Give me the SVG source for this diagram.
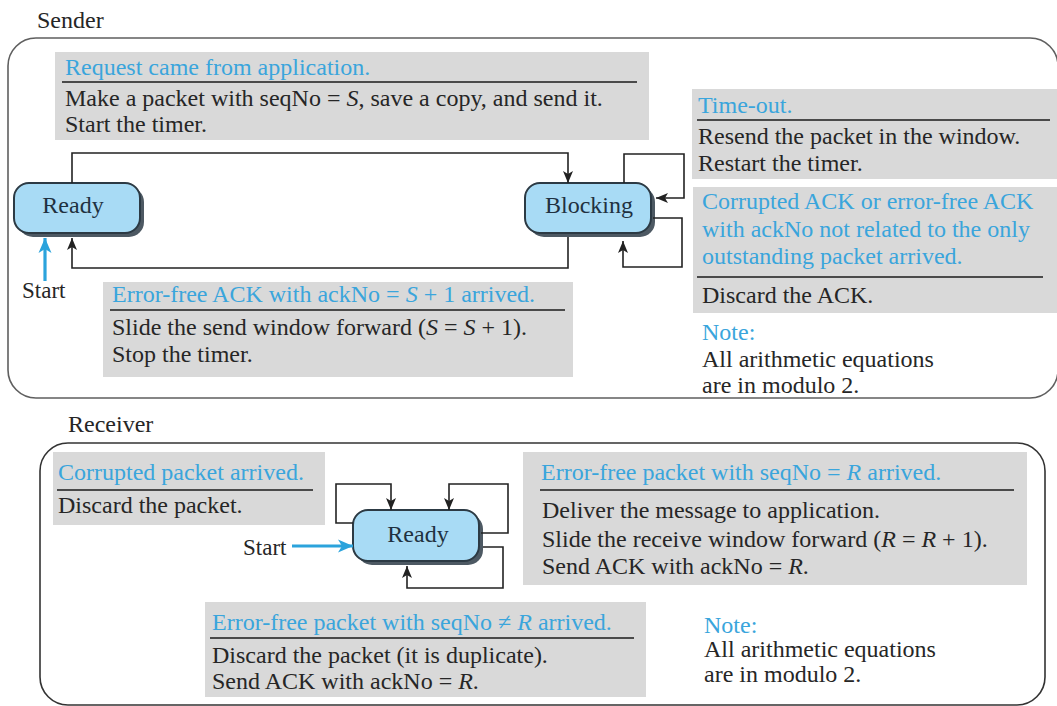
<svg xmlns="http://www.w3.org/2000/svg" width="1057" height="706" viewBox="0 0 1057 706">
<defs>
<style>
text{font-family:"Liberation Serif","Times New Roman",serif;font-size:24px;fill:#262626}
.t{fill:#3aa5dc}
.lbl{font-size:24px}
.st{font-size:23px}
.nd{font-size:24px;fill:#1f3140}
.box{fill:#d9d9d9}
.sep{stroke:#1a1a1a;stroke-width:1.6}
.frame{fill:none;stroke:#5f5f5f;stroke-width:1.6}
.frame2{fill:none;stroke:#333;stroke-width:1.6}
.node{fill:#a8dbf5;stroke:#2c3a44;stroke-width:2}
.shadow{fill:#4d5963}
.c{fill:none;stroke:#222;stroke-width:1.6}
.s{fill:none;stroke:#2ba3dc;stroke-width:3.2}
</style>
<marker id="ah" markerUnits="userSpaceOnUse" markerWidth="13" markerHeight="11" refX="12" refY="5.5" orient="auto">
<path d="M0,0.5 L12,5.5 L0,10.5 L3,5.5 z" fill="#222"/>
</marker>
<marker id="bh" markerUnits="userSpaceOnUse" markerWidth="16" markerHeight="14" refX="15" refY="7" orient="auto">
<path d="M0,0.5 L15,7 L0,13.5 L4,7 z" fill="#2ba3dc"/>
</marker>
</defs>
<rect width="1057" height="706" fill="#fff"/>

<g id="sender">
<text class="lbl" x="37" y="28">Sender</text>
<rect class="frame" x="8" y="38" width="1050" height="360" rx="28"/>
</g>

<g id="s-request">
<rect class="box" x="55" y="52" width="594" height="88"/>
<text class="t" x="65" y="75">Request came from application.</text>
<line class="sep" x1="62" y1="82" x2="637" y2="82"/>
<text x="65" y="106">Make a packet with seqNo = <tspan font-style="italic">S</tspan>, save a copy, and send it.</text>
<text x="65" y="132">Start the timer.</text>
</g>

<g id="s-timeout">
<rect class="box" x="692" y="89" width="365" height="90"/>
<text class="t" x="698" y="113">Time-out.</text>
<line class="sep" x1="697" y1="120" x2="1050" y2="120"/>
<text x="698" y="144">Resend the packet in the window.</text>
<text x="698" y="171">Restart the timer.</text>
</g>

<g id="s-corrupt">
<rect class="box" x="693" y="187" width="364" height="126"/>
<text class="t" x="702" y="209">Corrupted ACK or error-free ACK</text>
<text class="t" x="702" y="237">with ackNo not related to the only</text>
<text class="t" x="702" y="264">outstanding packet arrived.</text>
<line class="sep" x1="697" y1="277" x2="1043" y2="277"/>
<text x="702" y="303">Discard the ACK.</text>
</g>

<g id="s-errfree">
<rect class="box" x="103" y="282" width="470" height="95"/>
<text class="t" x="112" y="302">Error-free ACK with ackNo = <tspan font-style="italic">S</tspan> + 1 arrived.</text>
<line class="sep" x1="110" y1="310" x2="565" y2="310"/>
<text x="112" y="335">Slide the send window forward (<tspan font-style="italic">S</tspan> = <tspan font-style="italic">S</tspan> + 1).</text>
<text x="112" y="362">Stop the timer.</text>
</g>

<g id="s-note">
<text class="t" x="702" y="340">Note:</text>
<text x="702" y="367">All arithmetic equations</text>
<text x="702" y="393">are in modulo 2.</text>
</g>

<g id="s-ready">
<rect class="shadow" x="18" y="187" width="126" height="50" rx="15"/>
<rect class="node" x="14" y="183" width="126" height="50" rx="15"/>
<text class="nd" x="73" y="213" text-anchor="middle">Ready</text>
</g>

<g id="s-blocking">
<rect class="shadow" x="529" y="187" width="126" height="50" rx="15"/>
<rect class="node" x="525" y="183" width="126" height="50" rx="15"/>
<text class="nd" x="589" y="213" text-anchor="middle">Blocking</text>
</g>

<g id="s-start">
<text class="st" x="22" y="298">Start</text>
</g>

<g id="receiver">
<text class="lbl" x="68" y="432">Receiver</text>
<rect class="frame2" x="40" y="443" width="1005" height="262" rx="28"/>
</g>

<g id="r-corrupt">
<rect class="box" x="53" y="452" width="272" height="73"/>
<text class="t" x="58" y="480">Corrupted packet arrived.</text>
<line class="sep" x1="57" y1="490" x2="313" y2="490"/>
<text x="58" y="513">Discard the packet.</text>
</g>

<g id="r-errfree">
<rect class="box" x="523" y="452" width="504" height="133"/>
<text class="t" x="541" y="480">Error-free packet with seqNo = <tspan font-style="italic">R</tspan> arrived.</text>
<line class="sep" x1="540" y1="490" x2="1014" y2="490"/>
<text x="542" y="518">Deliver the message to application.</text>
<text x="542" y="547">Slide the receive window forward  (<tspan font-style="italic">R</tspan> = <tspan font-style="italic">R</tspan> + 1).</text>
<text x="542" y="574">Send ACK with ackNo = <tspan font-style="italic">R</tspan>.</text>
</g>

<g id="r-dup">
<rect class="box" x="205" y="602" width="441" height="95"/>
<text class="t" x="212" y="630">Error-free packet with seqNo ≠ <tspan font-style="italic">R</tspan> arrived.</text>
<line class="sep" x1="210" y1="638" x2="634" y2="638"/>
<text x="212" y="663">Discard the packet (it is duplicate).</text>
<text x="212" y="689">Send ACK with ackNo = <tspan font-style="italic">R</tspan>.</text>
</g>

<g id="r-note">
<text class="t" x="704" y="633">Note:</text>
<text x="704" y="657">All arithmetic equations</text>
<text x="704" y="682">are in modulo 2.</text>
</g>

<g id="r-ready">
<rect class="shadow" x="357" y="514" width="126" height="51" rx="15"/>
<rect class="node" x="353" y="510" width="126" height="51" rx="15"/>
<text class="nd" x="418" y="542" text-anchor="middle">Ready</text>
</g>

<g id="r-start">
<text class="st" x="243" y="555">Start</text>
</g>

<g id="connectors">
<path class="c" d="M72,183 V153 H568 V183" marker-end="url(#ah)"/>
<path class="c" d="M568,237 V268 H72 V238" marker-end="url(#ah)"/>
<path class="c" d="M624,183 V154 H684 V198 H656" marker-end="url(#ah)"/>
<path class="c" d="M653,218 H682 V267 H623 V241" marker-end="url(#ah)"/>
<path class="s" d="M45,281 V238" marker-end="url(#bh)"/>
<path class="c" d="M353,523 H336 V484 H391 V510" marker-end="url(#ah)"/>
<path class="c" d="M481,533 H508 V484 H449 V510" marker-end="url(#ah)"/>
<path class="c" d="M483,547 H503 V588 H407 V566" marker-end="url(#ah)"/>
<path class="s" d="M292,546 H353" marker-end="url(#bh)"/>
</g>
</svg>
